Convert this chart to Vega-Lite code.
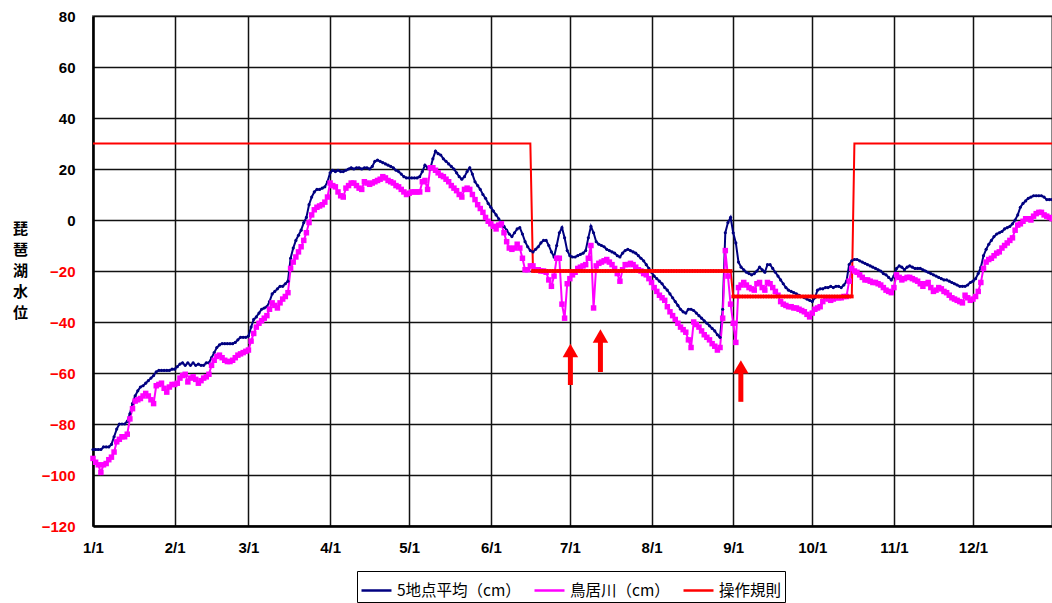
{
"$schema":"https://vega.github.io/schema/vega-lite/v6.json",
"width":959,"height":510,
"autosize":{"type":"none"},
"padding":{"left":93,"top":16,"right":0,"bottom":77},
"background":"white",
"config":{"view":{"stroke":"#888888","strokeWidth":2},"font":"Liberation Sans"},
"datasets":{
"lake":[
{"d":0,"a":-90,"b":-93.5,"r":30},{"d":1,"a":-90,"b":-95},{"d":2,"a":-90,"b":-96},{"d":3,"a":-90,"b":-99},{"d":4,"a":-89,"b":-96},{"d":5,"a":-89,"b":-95.5},{"d":6,"a":-89,"b":-94},{"d":7,"a":-88,"b":-93},{"d":8,"a":-85,"b":-91},{"d":9,"a":-82,"b":-87},
{"d":10,"a":-80,"b":-86},{"d":11,"a":-80,"b":-85},{"d":12,"a":-80,"b":-85},{"d":13,"a":-79,"b":-84},{"d":14,"a":-76,"b":-78},{"d":15,"a":-72,"b":-74},{"d":16,"a":-69,"b":-71},{"d":17,"a":-67,"b":-70.5},{"d":18,"a":-65.5,"b":-70},{"d":19,"a":-65,"b":-69},
{"d":20,"a":-64,"b":-68},{"d":21,"a":-63,"b":-69},{"d":22,"a":-62,"b":-70.5},{"d":23,"a":-61,"b":-72},{"d":24,"a":-59.5,"b":-65},{"d":25,"a":-59,"b":-64.5},{"d":26,"a":-59,"b":-64},{"d":27,"a":-59,"b":-66},{"d":28,"a":-59,"b":-67.5},{"d":29,"a":-59,"b":-65.5},
{"d":30,"a":-58.5,"b":-64.5},{"d":31,"a":-58.5,"b":-64.5},{"d":32,"a":-57.5,"b":-64},{"d":33,"a":-56.5,"b":-62},{"d":34,"a":-56,"b":-61},{"d":35,"a":-57,"b":-60.5},{"d":36,"a":-56,"b":-63.5},{"d":37,"a":-57,"b":-62},{"d":38,"a":-56,"b":-61.5},{"d":39,"a":-57,"b":-62.5},
{"d":40,"a":-56.5,"b":-64},{"d":41,"a":-57,"b":-63},{"d":42,"a":-57,"b":-62},{"d":43,"a":-56,"b":-61.5},{"d":44,"a":-56,"b":-60.5},{"d":45,"a":-54,"b":-57},{"d":46,"a":-52,"b":-55},{"d":47,"a":-50,"b":-53.5},{"d":48,"a":-49,"b":-53},{"d":49,"a":-48.5,"b":-54},
{"d":50,"a":-48.5,"b":-55},{"d":51,"a":-48.5,"b":-55.5},{"d":52,"a":-48.5,"b":-55.5},{"d":53,"a":-48.5,"b":-55},{"d":54,"a":-48,"b":-54},{"d":55,"a":-47,"b":-53},{"d":56,"a":-46,"b":-52.5},{"d":57,"a":-46,"b":-52},{"d":58,"a":-46,"b":-51.5},{"d":59,"a":-45.5,"b":-51},
{"d":60,"a":-42,"b":-47.5},{"d":61,"a":-39,"b":-44.5},{"d":62,"a":-38,"b":-42},{"d":63,"a":-36.5,"b":-40.5},{"d":64,"a":-35,"b":-39.5},{"d":65,"a":-34.5,"b":-38.5},{"d":66,"a":-34,"b":-37.5},{"d":67,"a":-32,"b":-35},{"d":68,"a":-29,"b":-32.5},{"d":69,"a":-28,"b":-33.5},
{"d":70,"a":-27,"b":-34.5},{"d":71,"a":-26,"b":-32.5},{"d":72,"a":-26,"b":-31},{"d":73,"a":-25,"b":-30},{"d":74,"a":-24,"b":-28.5},{"d":75,"a":-15,"b":-19},{"d":76,"a":-11,"b":-16.5},{"d":77,"a":-8,"b":-14.5},{"d":78,"a":-6,"b":-12.5},{"d":79,"a":-4,"b":-10.5},
{"d":80,"a":-1,"b":-8},{"d":81,"a":1,"b":-5},{"d":82,"a":6,"b":-1},{"d":83,"a":9,"b":2},{"d":84,"a":11,"b":4},{"d":85,"a":12,"b":5},{"d":86,"a":12,"b":5.5},{"d":87,"a":12.5,"b":6},{"d":88,"a":13,"b":7},{"d":89,"a":15,"b":9},
{"d":90,"a":18.5,"b":14.5},{"d":91,"a":19.5,"b":13.5},{"d":92,"a":19,"b":13},{"d":93,"a":19.5,"b":11},{"d":94,"a":19,"b":9.5},{"d":95,"a":19,"b":9},{"d":96,"a":19.5,"b":12.5},{"d":97,"a":20,"b":13.5},{"d":98,"a":20.5,"b":14.5},{"d":99,"a":20,"b":14.5},
{"d":100,"a":20.5,"b":13.5},{"d":101,"a":20.5,"b":12.5},{"d":102,"a":20,"b":12},{"d":103,"a":20.5,"b":15},{"d":104,"a":20.5,"b":14.5},{"d":105,"a":20,"b":14},{"d":106,"a":21,"b":14.5},{"d":107,"a":23,"b":15},{"d":108,"a":23.5,"b":15.5},{"d":109,"a":23,"b":16},
{"d":110,"a":22.5,"b":17},{"d":111,"a":22,"b":16.5},{"d":112,"a":21.5,"b":15.5},{"d":113,"a":21,"b":15},{"d":114,"a":20.5,"b":14.5},{"d":115,"a":19.5,"b":13.5},{"d":116,"a":19,"b":13},{"d":117,"a":18,"b":12},{"d":118,"a":17,"b":11},{"d":119,"a":16.5,"b":10},
{"d":120,"a":16.5,"b":10.5},{"d":121,"a":16.5,"b":11},{"d":122,"a":16.5,"b":11},{"d":123,"a":16.5,"b":11},{"d":124,"a":17,"b":11},{"d":125,"a":19,"b":15},{"d":126,"a":21.5,"b":15.5},{"d":127,"a":20.5,"b":12},{"d":128,"a":20,"b":20.5},{"d":129,"a":24,"b":20.5},
{"d":130,"a":27,"b":19.5},{"d":131,"a":26,"b":18.5},{"d":132,"a":25.5,"b":17.5},{"d":133,"a":24,"b":17},{"d":134,"a":23,"b":16},{"d":135,"a":22,"b":15},{"d":136,"a":21,"b":13.5},{"d":137,"a":20,"b":12.5},{"d":138,"a":18.5,"b":11.5},{"d":139,"a":17,"b":10},
{"d":140,"a":16,"b":9},{"d":141,"a":17,"b":12},{"d":142,"a":19,"b":12.5},{"d":143,"a":20.5,"b":12},{"d":144,"a":18,"b":10},{"d":145,"a":15,"b":8},{"d":146,"a":13.5,"b":6},{"d":147,"a":12,"b":4.5},{"d":148,"a":10,"b":3},{"d":149,"a":8.5,"b":1},
{"d":150,"a":6.5,"b":-0.5},{"d":151,"a":5,"b":-1.5},{"d":152,"a":3.5,"b":-2.5},{"d":153,"a":2,"b":-3.5},{"d":154,"a":0.5,"b":-2},{"d":155,"a":-1,"b":-1.5},{"d":156,"a":-2.5,"b":-5},{"d":157,"a":-4,"b":-8.5},{"d":158,"a":-5.5,"b":-11},{"d":159,"a":-6.5,"b":-11.5},
{"d":160,"a":-5,"b":-11},{"d":161,"a":-3.5,"b":-9.5},{"d":162,"a":-3,"b":-11},{"d":163,"a":-5.5,"b":-15},{"d":164,"a":-8.5,"b":-19.5},{"d":165,"a":-10.5,"b":-19.5},{"d":166,"a":-12,"b":-18,"r":30},{"d":167,"a":-12.5,"b":-18,"r":-20},{"d":168,"a":-11.5,"b":-19.5,"r":-20},{"d":169,"a":-10.5,"b":-19.5,"r":-20},
{"d":170,"a":-9,"b":-20,"r":-20},{"d":171,"a":-8,"b":-20,"r":-20},{"d":172,"a":-8,"b":-20.5,"r":-20},{"d":173,"a":-10,"b":-23.5,"r":-20},{"d":174,"a":-12.5,"b":-26,"r":-20},{"d":175,"a":-14.5,"b":-22,"r":-20},{"d":176,"a":-10,"b":-15,"r":-20},{"d":177,"a":-5,"b":-15,"r":-20},{"d":178,"a":-3,"b":-33,"r":-20},{"d":179,"a":-7,"b":-38.5,"r":-20},
{"d":180,"a":-12,"b":-25,"r":-20},{"d":181,"a":-14,"b":-23,"r":-20},{"d":182,"a":-14.5,"b":-21.5,"r":-20},{"d":183,"a":-14.5,"b":-20.5,"r":-20},{"d":184,"a":-14,"b":-19,"r":-20},{"d":185,"a":-13.5,"b":-18.5,"r":-20},{"d":186,"a":-13,"b":-18,"r":-20},{"d":187,"a":-12,"b":-17.5,"r":-20},{"d":188,"a":-7,"b":-15,"r":-20},{"d":189,"a":-2.5,"b":-10,"r":-20},
{"d":190,"a":-5,"b":-34.5,"r":-20},{"d":191,"a":-8.5,"b":-18,"r":-20},{"d":192,"a":-9.5,"b":-17,"r":-20},{"d":193,"a":-10,"b":-16.5,"r":-20},{"d":194,"a":-10.5,"b":-16,"r":-20},{"d":195,"a":-11.5,"b":-15.5,"r":-20},{"d":196,"a":-12,"b":-16.5,"r":-20},{"d":197,"a":-12.5,"b":-17.5,"r":-20},{"d":198,"a":-13,"b":-19,"r":-20},{"d":199,"a":-14,"b":-21,"r":-20},
{"d":200,"a":-14.5,"b":-24,"r":-20},{"d":201,"a":-13,"b":-19.5,"r":-20},{"d":202,"a":-12,"b":-17.5,"r":-20},{"d":203,"a":-11.5,"b":-17.5,"r":-20},{"d":204,"a":-12,"b":-17,"r":-20},{"d":205,"a":-12.5,"b":-17.5,"r":-20},{"d":206,"a":-13,"b":-18.5,"r":-20},{"d":207,"a":-14,"b":-19.5,"r":-20},{"d":208,"a":-15,"b":-20,"r":-20},{"d":209,"a":-16,"b":-21,"r":-20},
{"d":210,"a":-17.5,"b":-21.5,"r":-20},{"d":211,"a":-19,"b":-23,"r":-20},{"d":212,"a":-20.5,"b":-24.5,"r":-20},{"d":213,"a":-22,"b":-26.5,"r":-20},{"d":214,"a":-23,"b":-28,"r":-20},{"d":215,"a":-24,"b":-29.5,"r":-20},{"d":216,"a":-25,"b":-30.5,"r":-20},{"d":217,"a":-26.5,"b":-31.5,"r":-20},{"d":218,"a":-27.5,"b":-34,"r":-20},{"d":219,"a":-29,"b":-36,"r":-20},
{"d":220,"a":-30.5,"b":-37.5,"r":-20},{"d":221,"a":-32,"b":-39,"r":-20},{"d":222,"a":-33.5,"b":-40.5,"r":-20},{"d":223,"a":-35,"b":-42,"r":-20},{"d":224,"a":-36,"b":-43,"r":-20},{"d":225,"a":-36.5,"b":-44,"r":-20},{"d":226,"a":-35,"b":-47,"r":-20},{"d":227,"a":-35,"b":-50,"r":-20},{"d":228,"a":-35.5,"b":-40,"r":-20},{"d":229,"a":-36.5,"b":-41,"r":-20},
{"d":230,"a":-37.5,"b":-42,"r":-20},{"d":231,"a":-38.5,"b":-43.5,"r":-20},{"d":232,"a":-39.5,"b":-45,"r":-20},{"d":233,"a":-40.5,"b":-46,"r":-20},{"d":234,"a":-41.5,"b":-47,"r":-20},{"d":235,"a":-42.5,"b":-48.5,"r":-20},{"d":236,"a":-43.5,"b":-49.5,"r":-20},{"d":237,"a":-45,"b":-51,"r":-20},{"d":238,"a":-46,"b":-50,"r":-20},{"d":239,"a":-35,"b":-38.5,"r":-20},
{"d":240,"a":-5,"b":-12,"r":-20},{"d":241,"a":-1,"b":-22,"r":-20},{"d":242,"a":1,"b":-33,"r":-20},{"d":243,"a":-5,"b":-40.5,"r":-30},{"d":244,"a":-9,"b":-48,"r":-30},{"d":245,"a":-16.5,"b":-26.5,"r":-30},{"d":246,"a":-18.5,"b":-25.5,"r":-30},{"d":247,"a":-19.5,"b":-24.5,"r":-30},{"d":248,"a":-20.5,"b":-25.5,"r":-30},{"d":249,"a":-21,"b":-26.5,"r":-30},
{"d":250,"a":-21.5,"b":-27,"r":-30},{"d":251,"a":-21,"b":-27.5,"r":-30},{"d":252,"a":-20,"b":-25,"r":-30},{"d":253,"a":-18.5,"b":-24.5,"r":-30},{"d":254,"a":-19.5,"b":-26.5,"r":-30},{"d":255,"a":-20.5,"b":-27.5,"r":-30},{"d":256,"a":-17.5,"b":-24.5,"r":-30},{"d":257,"a":-17.5,"b":-25,"r":-30},{"d":258,"a":-19,"b":-26.5,"r":-30},{"d":259,"a":-20.5,"b":-28,"r":-30},
{"d":260,"a":-22,"b":-29.5,"r":-30},{"d":261,"a":-23.5,"b":-32,"r":-30},{"d":262,"a":-25,"b":-33,"r":-30},{"d":263,"a":-26.5,"b":-33.5,"r":-30},{"d":264,"a":-27.5,"b":-34,"r":-30},{"d":265,"a":-28,"b":-34,"r":-30},{"d":266,"a":-28.5,"b":-34.5,"r":-30},{"d":267,"a":-29,"b":-34.5,"r":-30},{"d":268,"a":-29.5,"b":-35,"r":-30},{"d":269,"a":-30,"b":-35.5,"r":-30},
{"d":270,"a":-30.5,"b":-36,"r":-30},{"d":271,"a":-31,"b":-37,"r":-30},{"d":272,"a":-31.5,"b":-38,"r":-30},{"d":273,"a":-32,"b":-36.5,"r":-30},{"d":274,"a":-30.5,"b":-35,"r":-30},{"d":275,"a":-27.5,"b":-34.5,"r":-30},{"d":276,"a":-27,"b":-34,"r":-30},{"d":277,"a":-27,"b":-32,"r":-30},{"d":278,"a":-26.5,"b":-30.5,"r":-30},{"d":279,"a":-26.5,"b":-31,"r":-30},
{"d":280,"a":-26,"b":-31.5,"r":-30},{"d":281,"a":-26.5,"b":-31,"r":-30},{"d":282,"a":-26,"b":-30.5,"r":-30},{"d":283,"a":-26,"b":-30.5,"r":-30},{"d":284,"a":-26.5,"b":-30.5,"r":-30},{"d":285,"a":-25.5,"b":-30,"r":-30},{"d":286,"a":-24,"b":-30,"r":-30},{"d":287,"a":-17.5,"b":-24,"r":-30},{"d":288,"a":-16,"b":-19,"r":-30},{"d":289,"a":-15.5,"b":-20,"r":30},
{"d":290,"a":-15.5,"b":-20.5},{"d":291,"a":-16,"b":-21.5},{"d":292,"a":-16.5,"b":-22.5},{"d":293,"a":-17,"b":-23.5},{"d":294,"a":-17.5,"b":-23.5},{"d":295,"a":-18,"b":-24},{"d":296,"a":-18.5,"b":-24.5},{"d":297,"a":-19,"b":-24.5},{"d":298,"a":-19.5,"b":-25},{"d":299,"a":-20,"b":-25.5},
{"d":300,"a":-21,"b":-26.5},{"d":301,"a":-21.5,"b":-27.5},{"d":302,"a":-22.5,"b":-28},{"d":303,"a":-23.5,"b":-28.5},{"d":304,"a":-22,"b":-26.5},{"d":305,"a":-19,"b":-21.5},{"d":306,"a":-18,"b":-22.5},{"d":307,"a":-18.5,"b":-23.5},{"d":308,"a":-19.5,"b":-23},{"d":309,"a":-18.5,"b":-22.5},
{"d":310,"a":-18,"b":-22.5},{"d":311,"a":-18.5,"b":-23},{"d":312,"a":-19,"b":-23.5},{"d":313,"a":-19,"b":-24},{"d":314,"a":-19,"b":-25},{"d":315,"a":-19.5,"b":-26},{"d":316,"a":-20,"b":-25},{"d":317,"a":-20.5,"b":-24.5},{"d":318,"a":-21,"b":-26.5},{"d":319,"a":-21.5,"b":-28},
{"d":320,"a":-22,"b":-27.5},{"d":321,"a":-22.5,"b":-26.5},{"d":322,"a":-23,"b":-27},{"d":323,"a":-23.5,"b":-28},{"d":324,"a":-23.5,"b":-28.5},{"d":325,"a":-24,"b":-29.5},{"d":326,"a":-24.5,"b":-30.5},{"d":327,"a":-25,"b":-31},{"d":328,"a":-25.5,"b":-31.5},{"d":329,"a":-26,"b":-32},
{"d":330,"a":-26,"b":-32.5},{"d":331,"a":-26,"b":-29.5},{"d":332,"a":-25.5,"b":-30.5},{"d":333,"a":-24.5,"b":-31.5},{"d":334,"a":-24,"b":-31},{"d":335,"a":-23,"b":-30},{"d":336,"a":-21,"b":-28},{"d":337,"a":-18.5,"b":-24.5},{"d":338,"a":-14,"b":-19},{"d":339,"a":-11.5,"b":-16.5},
{"d":340,"a":-9.5,"b":-15.5},{"d":341,"a":-8,"b":-15},{"d":342,"a":-6.5,"b":-14},{"d":343,"a":-5.5,"b":-13},{"d":344,"a":-5,"b":-12.5},{"d":345,"a":-4.5,"b":-11},{"d":346,"a":-3.5,"b":-10},{"d":347,"a":-3,"b":-9},{"d":348,"a":-2.5,"b":-8},{"d":349,"a":-1.5,"b":-7},
{"d":350,"a":0,"b":-4},{"d":351,"a":2,"b":-2},{"d":352,"a":5,"b":-1.5},{"d":353,"a":6.5,"b":-0.5},{"d":354,"a":7.5,"b":0.5},{"d":355,"a":8.5,"b":0.5},{"d":356,"a":9,"b":0},{"d":357,"a":9.5,"b":1.5},{"d":358,"a":9.5,"b":2.5},{"d":359,"a":9.5,"b":3},
{"d":360,"a":9.5,"b":3},{"d":361,"a":9,"b":2},{"d":362,"a":8,"b":1.5},{"d":363,"a":8,"b":1},{"d":364,"a":8,"b":0.5,"r":30}
],
"arrows":[
{"d":181.2,"lo":-64.7,"hi":-53,"tip":-51.2},
{"d":192.6,"lo":-59.6,"hi":-47.5,"tip":-45.5},
{"d":245.9,"lo":-71.3,"hi":-60,"tip":-57.6}
]
},
"layer":[
{"data":{"name":"lake"},
 "transform":[{"fold":["a","b","r"],"as":["s","v"]},{"filter":"isValid(datum.v)"}],
 "layer":[
  {"mark":{"type":"line","strokeWidth":2},
   "encoding":{
    "x":{"field":"d","type":"quantitative","scale":{"domain":[0,364],"nice":false,"zero":false},
      "axis":{"title":null,"values":[0,31,59,90,120,151,181,212,243,273,304,334],
        "labelExpr":"(indexof([0,31,59,90,120,151,181,212,243,273,304,334], datum.value)+1) + '/1'",
        "labelFont":"Liberation Sans","labelFontWeight":"bold","labelFontSize":15,"labelColor":"#000",
        "labelPadding":14,"ticks":false,"domainColor":"#000","domainWidth":2.5,
        "grid":true,"gridColor":"#111","gridWidth":1.5,"gridOpacity":1,"labelFlush":false}},
    "y":{"field":"v","type":"quantitative","scale":{"domain":[-120,80],"nice":false},
      "axis":{"values":[-120,-100,-80,-60,-40,-20,0,20,40,60,80],
        "title":["琵","琶","湖","水","位"],"titleAngle":0,"titleFont":"Noto Sans CJK JP","titleFontSize":15,"titleFontWeight":"bold",
        "titleLineHeight":21,"titleAlign":"center","titleBaseline":"middle","titleX":-73,"titleY":212,"titleColor":"#000",
        "labelFont":"Liberation Sans","labelFontWeight":"bold","labelFontSize":15,
        "labelColor":{"condition":{"test":"datum.value < 0","value":"#FF0000"},"value":"#000000"},
        "labelPadding":18,"ticks":false,"domainColor":"#000","domainWidth":2.5,
        "grid":true,"gridColor":"#111","gridWidth":1.5,"gridOpacity":1}},
    "color":{"field":"s","type":"nominal",
      "scale":{"domain":["a","b","r"],"range":["#000080","#FF00FF","#FF0000"]},
      "legend":{"title":null,"orient":"none","legendX":264,"legendY":555,"direction":"horizontal",
        "labelExpr":"datum.label == 'a' ? '5地点平均（cm）' : datum.label == 'b' ? '鳥居川（cm）' : '操作規則'",
        "labelFont":"Noto Sans CJK JP","labelFontSize":15.5,"labelColor":"#000",
        "symbolType":"stroke","symbolSize":900,"symbolStrokeWidth":2.5,
        "strokeColor":"#000","fillColor":"#fff","padding":3,"columnPadding":8}}
   }},
  {"transform":[{"filter":"datum.s == 'a'"}],
   "mark":{"type":"circle","size":10,"color":"#000080","opacity":1},
   "encoding":{"x":{"field":"d","type":"quantitative"},"y":{"field":"v","type":"quantitative"}}},
  {"transform":[{"filter":"datum.s == 'b'"}],
   "mark":{"type":"square","size":30,"color":"#FF00FF","opacity":1,"filled":true},
   "encoding":{"x":{"field":"d","type":"quantitative"},"y":{"field":"v","type":"quantitative"}}},
  {"transform":[{"filter":"datum.s == 'r' && datum.v < 0"}],
   "mark":{"type":"square","size":14,"color":"#FF0000","opacity":1,"filled":true},
   "encoding":{"x":{"field":"d","type":"quantitative"},"y":{"field":"v","type":"quantitative"}}}
 ]},
{"data":{"name":"arrows"},
 "layer":[
  {"mark":{"type":"rule","color":"#FF0000","strokeWidth":5,"strokeCap":"butt"},
   "encoding":{"x":{"field":"d","type":"quantitative"},"y":{"field":"lo","type":"quantitative"},"y2":{"field":"hi"}}},
  {"mark":{"type":"point","shape":"triangle-up","size":240,"filled":true,"color":"#FF0000","opacity":1},
   "encoding":{"x":{"field":"d","type":"quantitative"},"y":{"field":"tip","type":"quantitative"}}}
 ]}
]
}
